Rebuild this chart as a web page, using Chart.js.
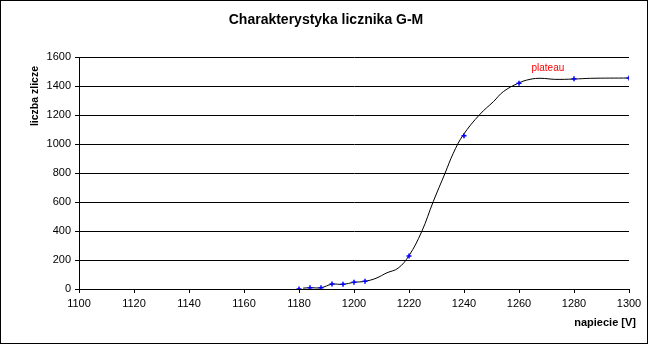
<!DOCTYPE html>
<html>
<head>
<meta charset="utf-8">
<script src="https://cdn.jsdelivr.net/npm/chart.js@4/dist/chart.umd.min.js"></script>
<style>
html,body{margin:0;padding:0;background:#fff;}
canvas{display:block;}
</style>
</head>
<body>
<canvas id="c" width="650" height="344"></canvas>
<script>
// Measured points (voltage [V], counts)
const voltages = [1180, 1184, 1188, 1192, 1196, 1200, 1204, 1220, 1240, 1260, 1280, 1300];
const counts   = [0, 9, 9, 34, 32, 46, 53, 228, 1057, 1419, 1450, 1455];

// Smoothed curve
const curveV = [1181.5, 1184, 1188, 1192, 1196, 1200, 1204, 1208, 1212, 1216, 1220, 1224.6, 1228.8, 1233.1, 1236.1, 1239.7, 1245.8, 1250.7, 1254.3, 1259.7, 1264, 1268, 1273, 1280, 1286, 1300];
const curveN = [6, 9, 9, 33, 32, 46, 53, 74, 112, 143, 230, 395, 602, 798, 936, 1062, 1205, 1292, 1361, 1419, 1446, 1453, 1446, 1448, 1453, 1455];

const xTickRange = [1100, 1300, 20];
const yTickRange = [0, 1600, 200];

const titleText = "Charakterystyka licznika G-M";
const yTitleText = "liczba zlicze";
const xTitleText = "napiecie [V]";
const noteText = "plateau";
const notePos = [1270.5, 1525];

const FONT = "'Liberation Sans', Arial, sans-serif";

const decor = {
  id: 'decor',
  beforeDraw(chart) {
    const ctx = chart.ctx;
    ctx.save();
    ctx.fillStyle = '#fff';
    ctx.fillRect(0, 0, chart.width, chart.height);
    ctx.restore();
  },
  afterDraw(chart) {
    const ctx = chart.ctx;
    ctx.save();
    ctx.strokeStyle = '#000';
    ctx.lineWidth = 1;
    ctx.strokeRect(0.5, 0.5, chart.width - 3, chart.height - 1);
    ctx.fillStyle = '#000';
    ctx.textAlign = 'center';
    ctx.textBaseline = 'middle';
    ctx.font = 'bold 14px ' + FONT;
    ctx.fillText(titleText, 326, 20);
    ctx.font = 'bold 11px ' + FONT;
    ctx.textAlign = 'right';
    ctx.fillText(xTitleText, 636, 323);
    ctx.save();
    ctx.translate(35, 96);
    ctx.rotate(-Math.PI / 2);
    ctx.textAlign = 'center';
    ctx.font = 'bold 10.5px ' + FONT;
    ctx.fillText(yTitleText, 0, 0);
    ctx.restore();
    const xs = chart.scales.x, ys = chart.scales.y;
    ctx.fillStyle = '#ff0000';
    ctx.font = '10px ' + FONT;
    ctx.textAlign = 'center';
    ctx.fillText(noteText, xs.getPixelForValue(notePos[0]), ys.getPixelForValue(notePos[1]));
    ctx.restore();
  }
};

new Chart(document.getElementById('c'), {
  type: 'scatter',
  data: {
    datasets: [
      {
        label: 'markers',
        data: voltages.map((v, i) => ({x: v, y: counts[i]})),
        showLine: false,
        pointStyle: 'cross',
        pointRadius: 2.5,
        pointBorderWidth: 1.5,
        borderColor: '#0000ff',
        backgroundColor: '#0000ff',
        order: 0
      },
      {
        label: 'curve',
        data: curveV.map((v, i) => ({x: v, y: curveN[i]})),
        showLine: true,
        borderColor: '#000',
        borderWidth: 1,
        pointRadius: 0,
        tension: 0.4,
        order: 1
      }
    ]
  },
  options: {
    responsive: false,
    animation: false,
    devicePixelRatio: 1,
    layout: { padding: { left: 0, top: 57, right: 21, bottom: 0 } },
    plugins: { legend: { display: false }, tooltip: { enabled: false }, title: { display: false } },
    scales: {
      x: {
        type: 'linear',
        min: xTickRange[0], max: xTickRange[1],
        afterFit(s) { s.height = 55; },
        ticks: { stepSize: xTickRange[2], color: '#000', font: { family: FONT, size: 11 }, padding: 4, maxRotation: 0, autoSkip: false, callback: v => String(v) },
        grid: { drawOnChartArea: false, drawTicks: true, tickLength: 4, color: '#000' },
        border: { color: '#000', width: 1 }
      },
      y: {
        min: yTickRange[0], max: yTickRange[1],
        afterFit(s) { s.width = 79; },
        ticks: { stepSize: yTickRange[2], color: '#000', font: { family: FONT, size: 11 }, padding: 4, callback: v => String(v) },
        grid: { color: '#000', lineWidth: 1, tickLength: 4 },
        border: { color: '#000', width: 1 }
      }
    }
  },
  plugins: [decor]
});
</script>
</body>
</html>
